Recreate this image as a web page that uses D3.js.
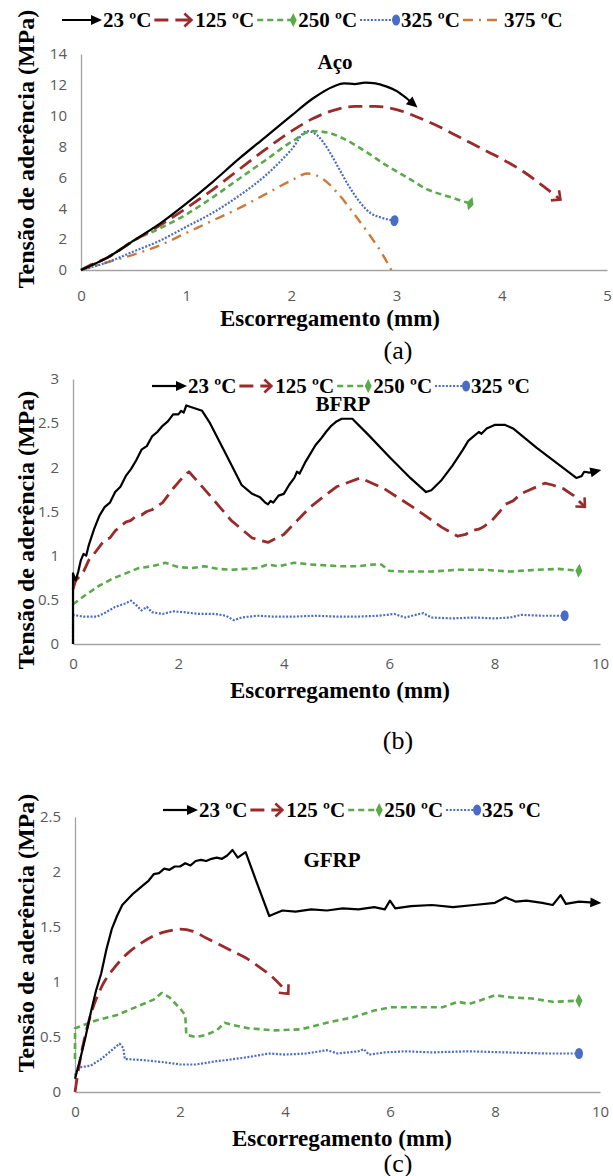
<!DOCTYPE html>
<html>
<head>
<meta charset="utf-8">
<script src="https://cdn.jsdelivr.net/npm/d3@7"></script>
<style>
  body { margin: 0; background: #fff; }
  svg { display: block; }
</style>
</head>
<body>
<svg id="chart" width="613" height="1176"></svg>
<script>
// ---- data ----
var seriesNames = ['23 ºC', '125 ºC', '250 ºC', '325 ºC', '375 ºC'];

var acoXTicks = [0, 1, 2, 3, 4, 5];
var acoYTicks = [0, 2, 4, 6, 8, 10, 12, 14];
var frpXTicks = [0, 2, 4, 6, 8, 10];
var bfrpYTicks = [0, 0.5, 1, 1.5, 2, 2.5, 3];
var gfrpYTicks = [0, 0.5, 1, 1.5, 2, 2.5];

// (a) Aço
var aco23 = [[0,0],[0.1,0.3],[0.25,0.8],[0.5,1.9],[0.75,3.0],[1.0,4.3],[1.25,5.7],[1.5,7.2],[1.75,8.6],[2.0,10.0],[2.2,11.1],[2.4,11.9],[2.5,12.1],[2.6,12.05],[2.7,12.15],[2.8,12.1],[2.9,11.9],[3.0,11.6],[3.1,11.1],[3.17,10.7]];
var aco125 = [[0,0],[0.1,0.35],[0.25,0.8],[0.5,1.9],[0.75,2.9],[1.0,4.0],[1.25,5.2],[1.5,6.5],[1.75,7.8],[2.0,9.0],[2.2,9.8],[2.4,10.35],[2.6,10.6],[2.8,10.6],[3.0,10.4],[3.2,9.9],[3.4,9.3],[3.6,8.6],[3.8,7.9],[4.0,7.2],[4.2,6.4],[4.4,5.4],[4.55,4.6]];
var aco250 = [[0,0],[0.1,0.3],[0.25,0.8],[0.5,1.9],[0.75,2.7],[1.0,3.6],[1.25,4.7],[1.5,5.9],[1.75,7.1],[2.0,8.3],[2.2,9.0],[2.35,8.9],[2.5,8.5],[2.7,7.7],[2.9,6.8],[3.1,6.0],[3.3,5.2],[3.5,4.75],[3.7,4.3]];
var aco325 = [[0,0],[0.25,0.5],[0.5,1.2],[0.75,1.9],[1.0,2.8],[1.25,3.7],[1.5,4.8],[1.75,6.1],[2.0,7.8],[2.15,9.0],[2.25,8.7],[2.35,7.8],[2.45,6.6],[2.55,5.4],[2.65,4.4],[2.75,3.7],[2.85,3.4],[2.98,3.2]];
var aco375 = [[0,0],[0.25,0.5],[0.5,1.0],[0.75,1.6],[1.0,2.4],[1.25,3.2],[1.5,4.0],[1.75,4.9],[2.0,5.8],[2.15,6.25],[2.3,5.9],[2.45,4.9],[2.6,3.6],[2.75,2.2],[2.85,1.2],[2.95,0]];

// (b) BFRP
var bfrp23 = [[0,0],[0,0.8],[0.05,0.72],[0.1,0.82],[0.15,0.95],[0.2,1.02],[0.25,1.0],[0.3,1.12],[0.4,1.3],[0.5,1.45],[0.6,1.55],[0.7,1.6],[0.8,1.72],[0.9,1.78],[1.0,1.9],[1.1,1.98],[1.2,2.08],[1.3,2.2],[1.4,2.24],[1.5,2.35],[1.6,2.4],[1.7,2.47],[1.8,2.52],[1.9,2.6],[2.0,2.6],[2.05,2.64],[2.1,2.62],[2.15,2.7],[2.25,2.68],[2.45,2.64],[2.6,2.5],[2.9,2.15],[3.2,1.8],[3.4,1.7],[3.55,1.66],[3.65,1.6],[3.7,1.58],[3.75,1.62],[3.8,1.6],[3.9,1.68],[4.0,1.7],[4.1,1.8],[4.2,1.88],[4.25,1.95],[4.3,1.93],[4.4,2.05],[4.5,2.15],[4.6,2.25],[4.7,2.32],[4.8,2.4],[4.9,2.47],[5.0,2.52],[5.1,2.55],[5.3,2.55],[5.6,2.37],[6.0,2.12],[6.4,1.88],[6.7,1.72],[6.8,1.74],[7.0,1.86],[7.2,2.02],[7.4,2.2],[7.5,2.3],[7.6,2.35],[7.7,2.4],[7.75,2.38],[7.85,2.44],[8.0,2.48],[8.2,2.48],[8.35,2.44],[8.8,2.22],[9.2,2.04],[9.55,1.88],[9.65,1.9],[9.7,1.95],[9.8,1.94],[9.95,1.96]];
var bfrp125 = [[0,0.62],[0.05,0.72],[0.12,0.76],[0.2,0.82],[0.3,0.95],[0.4,1.02],[0.5,1.1],[0.6,1.18],[0.7,1.2],[0.8,1.28],[0.9,1.33],[1.0,1.38],[1.1,1.4],[1.2,1.45],[1.3,1.46],[1.4,1.5],[1.5,1.52],[1.6,1.56],[1.7,1.6],[1.8,1.68],[1.9,1.76],[2.0,1.83],[2.1,1.9],[2.2,1.95],[2.6,1.68],[3.0,1.4],[3.4,1.2],[3.7,1.15],[4.0,1.24],[4.5,1.55],[5.0,1.78],[5.45,1.88],[5.9,1.76],[6.5,1.53],[7.0,1.32],[7.3,1.22],[7.45,1.24],[7.55,1.28],[7.7,1.3],[7.8,1.33],[7.95,1.4],[8.1,1.5],[8.2,1.58],[8.35,1.62],[8.5,1.7],[8.65,1.74],[8.8,1.78],[8.95,1.82],[9.1,1.8],[9.3,1.76],[9.5,1.68],[9.7,1.56]];
var bfrp250 = [[0,0.45],[0.25,0.56],[0.5,0.66],[0.75,0.74],[1.0,0.8],[1.25,0.86],[1.5,0.88],[1.75,0.92],[2.0,0.87],[2.25,0.86],[2.5,0.88],[2.75,0.85],[3.0,0.84],[3.25,0.85],[3.5,0.86],[3.7,0.9],[3.9,0.88],[4.2,0.92],[4.5,0.9],[4.8,0.89],[5.1,0.88],[5.4,0.88],[5.7,0.9],[5.85,0.9],[6.0,0.83],[6.3,0.82],[6.8,0.82],[7.3,0.84],[7.8,0.84],[8.3,0.82],[8.8,0.84],[9.2,0.85],[9.6,0.83]];
var bfrp325 = [[0,0],[0,0.33],[0.2,0.31],[0.45,0.31],[0.6,0.35],[0.8,0.42],[1.0,0.46],[1.1,0.49],[1.2,0.44],[1.3,0.38],[1.4,0.42],[1.5,0.36],[1.7,0.34],[1.9,0.37],[2.1,0.36],[2.4,0.34],[2.7,0.34],[2.9,0.32],[3.05,0.27],[3.2,0.3],[3.5,0.32],[3.8,0.31],[4.2,0.31],[4.6,0.32],[5.0,0.31],[5.4,0.31],[5.8,0.32],[6.1,0.34],[6.3,0.3],[6.5,0.33],[6.65,0.35],[6.8,0.3],[7.2,0.29],[7.6,0.3],[8.0,0.29],[8.3,0.3],[8.5,0.33],[8.9,0.32],[9.33,0.32]];

// (c) GFRP
var gfrp23 = [[0,0.12],[0.1,0.3],[0.2,0.5],[0.3,0.72],[0.4,0.92],[0.5,1.08],[0.6,1.3],[0.7,1.48],[0.8,1.6],[0.9,1.7],[1.0,1.75],[1.1,1.8],[1.2,1.84],[1.3,1.88],[1.4,1.92],[1.5,1.98],[1.6,1.99],[1.7,2.03],[1.8,2.02],[1.9,2.05],[2.0,2.05],[2.1,2.08],[2.2,2.06],[2.3,2.1],[2.4,2.11],[2.5,2.1],[2.6,2.12],[2.7,2.13],[2.8,2.12],[2.9,2.15],[3.0,2.2],[3.1,2.13],[3.25,2.18],[3.45,1.92],[3.7,1.6],[3.8,1.62],[3.95,1.65],[4.2,1.64],[4.5,1.66],[4.8,1.65],[5.1,1.67],[5.4,1.66],[5.7,1.68],[5.9,1.66],[6.0,1.74],[6.1,1.67],[6.4,1.69],[6.8,1.7],[7.2,1.68],[7.6,1.7],[8.0,1.72],[8.2,1.77],[8.4,1.73],[8.6,1.74],[8.9,1.72],[9.1,1.7],[9.25,1.79],[9.35,1.71],[9.6,1.73],[9.95,1.72]];
var gfrp125 = [[0,0],[0.1,0.3],[0.25,0.62],[0.5,0.95],[0.75,1.13],[1.0,1.26],[1.25,1.35],[1.5,1.42],[1.75,1.46],[2.0,1.48],[2.25,1.46],[2.5,1.4],[2.75,1.34],[3.0,1.28],[3.25,1.22],[3.5,1.14],[3.75,1.05],[4.05,0.9]];
var gfrp250 = [[0,0.3],[0,0.58],[0.4,0.65],[0.8,0.7],[1.2,0.78],[1.5,0.84],[1.65,0.9],[1.8,0.86],[2.0,0.76],[2.1,0.7],[2.12,0.52],[2.3,0.5],[2.5,0.52],[2.7,0.56],[2.85,0.63],[3.0,0.61],[3.3,0.58],[3.8,0.56],[4.3,0.57],[4.8,0.63],[5.3,0.68],[5.7,0.74],[6.0,0.77],[6.5,0.77],[7.0,0.77],[7.3,0.82],[7.5,0.8],[7.7,0.83],[8.0,0.88],[8.3,0.86],[8.7,0.85],[9.1,0.82],[9.6,0.83]];
var gfrp325 = [[0,0.15],[0.05,0.22],[0.3,0.24],[0.5,0.3],[0.7,0.38],[0.85,0.44],[0.92,0.4],[0.95,0.3],[1.3,0.29],[1.7,0.27],[2.0,0.25],[2.3,0.25],[2.7,0.28],[3.2,0.31],[3.7,0.35],[4.0,0.34],[4.4,0.35],[4.8,0.38],[5.0,0.35],[5.4,0.37],[5.5,0.39],[5.6,0.34],[5.9,0.36],[6.3,0.37],[6.8,0.36],[7.5,0.37],[8.2,0.36],[9.0,0.35],[9.6,0.35]];

// ---- styles ----
var styles = [
  { color: '#000000', width: 2.2, dash: null,        marker: 'arrow' },
  { color: '#9b2a2a', width: 2.8, dash: '14,7',      marker: 'chevron' },
  { color: '#5aaa4a', width: 2.6, dash: '6,4',       marker: 'diamond' },
  { color: '#4a6cc4', width: 2.2, dash: '2,1.6',     marker: 'ellipse' },
  { color: '#cc7a3a', width: 2.4, dash: '10,6,2,6',  marker: null }
];
var serif = '"Liberation Serif", "Times New Roman", serif';
var sans = '"Open Sans", "Liberation Sans", sans-serif';

var svg = d3.select('#chart');
svg.append('rect').attr('width', 613).attr('height', 1176).attr('fill', '#fff');
var defs = svg.append('defs');

function addMarker(id, build) {
  var m = defs.append('marker')
    .attr('id', id)
    .attr('viewBox', '-12 -12 24 24')
    .attr('refX', 0).attr('refY', 0)
    .attr('markerWidth', 24).attr('markerHeight', 24)
    .attr('markerUnits', 'userSpaceOnUse')
    .attr('orient', 'auto');
  build(m);
}
addMarker('m-arrow', function(m) {
  m.append('path').attr('d', 'M-7,-5 L4,0 L-7,5 Z').attr('fill', styles[0].color);
});
addMarker('m-chevron', function(m) {
  m.append('path').attr('d', 'M-6,-6.5 L1,0 L-6,6.5').attr('fill', 'none')
    .attr('stroke', styles[1].color).attr('stroke-width', 2.6);
});
addMarker('m-diamond', function(m) {
  m.append('path').attr('d', 'M0,-7 L3.5,0 L0,7 L-3.5,0 Z').attr('fill', styles[2].color);
});
addMarker('m-ellipse', function(m) {
  m.append('ellipse').attr('rx', 4).attr('ry', 5.5).attr('fill', styles[3].color);
});

var fmt = d3.format('~g');

function drawPanel(p) {
  var x = d3.scaleLinear().domain(p.xDomain).range(p.xRange);
  var y = d3.scaleLinear().domain(p.yDomain).range(p.yRange);
  var g = svg.append('g');

  // axes
  var gx = g.append('g').attr('transform', 'translate(0,' + p.yRange[0] + ')')
    .call(d3.axisBottom(x).tickValues(p.xTicks).tickFormat(fmt).tickSize(0).tickSizeOuter(0).tickPadding(p.xPad));
  var gy = g.append('g').attr('transform', 'translate(' + p.xRange[0] + ',0)')
    .call(d3.axisLeft(y).tickValues(p.yTicks).tickFormat(fmt).tickSize(0).tickSizeOuter(0).tickPadding(14));
  [gx, gy].forEach(function(a) {
    a.select('.domain').attr('stroke', '#a3a3a3').attr('stroke-width', 1.3);
    a.selectAll('text').attr('fill', '#595959').style('font-family', sans).style('font-size', '15px');
  });

  // series (drawn back to front so 23 ºC ends on top)
  for (var i = p.series.length - 1; i >= 0; i--) {
    var st = styles[i];
    var smooth = p.smooth || (p.smoothSeries && p.smoothSeries.indexOf(i) >= 0);
    var ln = d3.line().x(function(d) { return x(d[0]); }).y(function(d) { return y(d[1]); })
      .curve(smooth ? d3.curveMonotoneX : d3.curveLinear);
    g.append('path').datum(p.series[i])
      .attr('d', ln)
      .attr('fill', 'none')
      .attr('stroke', st.color)
      .attr('stroke-width', st.width)
      .attr('stroke-dasharray', st.dash)
      .attr('stroke-linejoin', 'round')
      .attr('marker-end', st.marker ? 'url(#m-' + st.marker + ')' : null);
  }

  // legend
  var lx = p.legendX;
  p.series.forEach(function(s, i) {
    var st = styles[i];
    g.append('line')
      .attr('x1', lx).attr('x2', lx + p.sample)
      .attr('y1', p.legendY).attr('y2', p.legendY)
      .attr('stroke', st.color).attr('stroke-width', st.width)
      .attr('stroke-dasharray', st.dash)
      .attr('marker-end', st.marker ? 'url(#m-' + st.marker + ')' : null);
    var t = g.append('text')
      .attr('x', lx + p.sample + 5).attr('y', p.legendY)
      .attr('dominant-baseline', 'central')
      .style('font-family', serif).style('font-weight', 'bold').style('font-size', '21px')
      .text(seriesNames[i]);
    lx = lx + p.sample + 5 + t.node().getComputedTextLength() + 3;
  });

  // texts
  g.append('text').attr('x', p.titleX).attr('y', p.titleY)
    .attr('text-anchor', 'middle').attr('dominant-baseline', 'central')
    .style('font-family', serif).style('font-weight', 'bold').style('font-size', '21px')
    .text(p.title);
  g.append('text').attr('x', p.xTitleX).attr('y', p.xTitleY)
    .attr('text-anchor', 'middle').attr('dominant-baseline', 'central')
    .style('font-family', serif).style('font-weight', 'bold').style('font-size', '23px')
    .text('Escorregamento (mm)');
  g.append('text')
    .attr('transform', 'translate(' + p.yTitleX + ',' + p.yTitleY + ') rotate(-90)')
    .attr('text-anchor', 'middle').attr('dominant-baseline', 'central')
    .style('font-family', serif).style('font-weight', 'bold').style('font-size', '24px')
    .text('Tensão de aderência (MPa)');
  g.append('text').attr('x', p.tagX).attr('y', p.tagY)
    .attr('text-anchor', 'middle').attr('dominant-baseline', 'central')
    .style('font-family', serif).style('font-size', '26px')
    .text(p.tag);
}

drawPanel({
  series: [aco23, aco125, aco250, aco325, aco375], smooth: true,
  xDomain: [0, 5], xRange: [81, 607], xTicks: acoXTicks, xPad: 20,
  yDomain: [0, 14], yRange: [270, 54], yTicks: acoYTicks,
  legendX: 62, legendY: 20, sample: 36,
  title: 'Aço', titleX: 335, titleY: 62,
  xTitleX: 330, xTitleY: 318, yTitleX: 26, yTitleY: 149,
  tag: '(a)', tagX: 398, tagY: 350
});
drawPanel({
  series: [bfrp23, bfrp125, bfrp250, bfrp325], smooth: false,
  xDomain: [0, 10], xRange: [73, 600], xTicks: frpXTicks, xPad: 14,
  yDomain: [0, 3], yRange: [644, 379], yTicks: bfrpYTicks,
  legendX: 152, legendY: 386, sample: 31,
  title: 'BFRP', titleX: 343, titleY: 404,
  xTitleX: 340, xTitleY: 690, yTitleX: 26, yTitleY: 530,
  tag: '(b)', tagX: 398, tagY: 740
});
drawPanel({
  series: [gfrp23, gfrp125, gfrp250, gfrp325], smooth: false, smoothSeries: [1],
  xDomain: [0, 10], xRange: [75, 600], xTicks: frpXTicks, xPad: 14,
  yDomain: [0, 2.5], yRange: [1092, 817], yTicks: gfrpYTicks,
  legendX: 163, legendY: 810, sample: 31,
  title: 'GFRP', titleX: 332, titleY: 860,
  xTitleX: 342, xTitleY: 1138, yTitleX: 26, yTitleY: 933,
  tag: '(c)', tagX: 398, tagY: 1163
});
</script>
</body>
</html>
